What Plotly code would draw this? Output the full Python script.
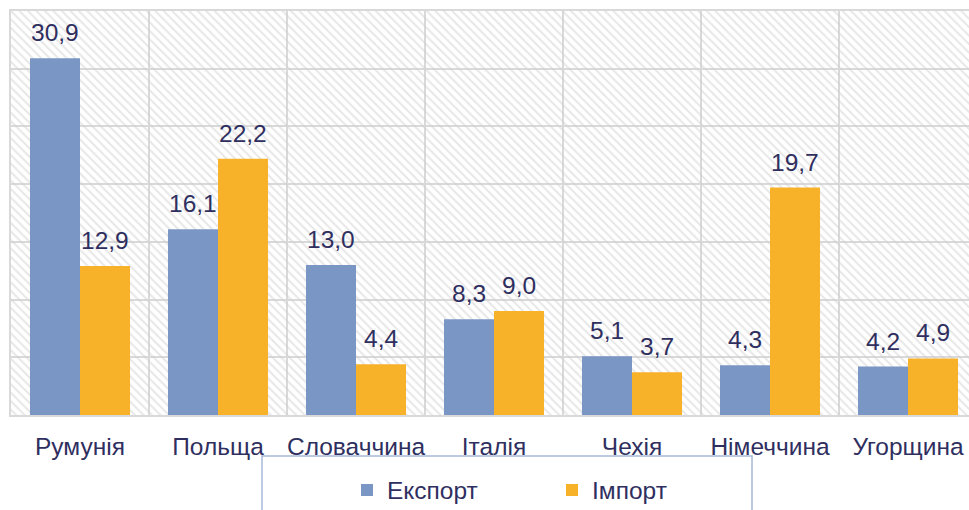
import plotly.graph_objects as go

categories = ["Румунія", "Польща", "Словаччина", "Італія", "Чехія", "Німеччина", "Угорщина"]
export_vals = [30.9, 16.1, 13.0, 8.3, 5.1, 4.3, 4.2]
import_vals = [12.9, 22.2, 4.4, 9.0, 3.7, 19.7, 4.9]
series_names = ["Експорт", "Імпорт"]
Y_MAX = 35
Y_STEP = 5

BLUE = "#7a96c4"
ORANGE = "#f8b22a"
TEXT = "#2f2f5f"
GRID = "#d9d9d9"
FONT = "Liberation Sans, Arial, sans-serif"
FS = 24.5

# the page body margin is removed (post_script), so figure px == page px
W, H = 969, 510
L, R, T, B = 11, 0, 11, 95
PLOT_W = W - L - R
PLOT_H = H - T - B
OFF = 0
CAT_PX = 138  # category slot width in the reference (last slot is cropped)
x_max = -0.5 + PLOT_W / CAT_PX

fig = go.Figure()

# hatched plot background (base axes)
fig.add_trace(go.Bar(
    x=[0.5], y=[Y_MAX], width=[1], xaxis="x", yaxis="y",
    marker=dict(color="rgba(0,0,0,0)", line=dict(width=0),
                pattern=dict(shape="\\", fgcolor="#cfcfcf", bgcolor="rgba(0,0,0,0)",
                             size=6, solidity=0.33, fillmode="overlay")),
    showlegend=False, hoverinfo="skip",
))

fig.add_trace(go.Bar(x=categories, y=export_vals, name=series_names[0],
                     marker=dict(color=BLUE, line=dict(width=0)),
                     xaxis="x2", yaxis="y2"))
fig.add_trace(go.Bar(x=categories, y=import_vals, name=series_names[1],
                     marker=dict(color=ORANGE, line=dict(width=0)),
                     xaxis="x2", yaxis="y2"))

BARGAP = 0.275
offset = (1 - BARGAP) / 4
annotations = []
for i, (e, m) in enumerate(zip(export_vals, import_vals)):
    for val, dx in ((e, -offset), (m, offset)):
        annotations.append(dict(
            x=i + dx, y=val, xref="x2", yref="y2", text=f"{val:.1f}".replace(".", ","),
            showarrow=False, yanchor="bottom", yshift=10,
            font=dict(size=FS, color=TEXT, family=FONT)))


def px_x(page_x):
    return (page_x - OFF - L) / PLOT_W


def px_y(page_y):
    return 1 - (page_y - OFF - T) / PLOT_H


fig.update_layout(
    width=W, height=H,
    margin=dict(l=L, r=R, t=T, b=B, autoexpand=False),
    paper_bgcolor="white", plot_bgcolor="white",
    barmode="group", bargap=BARGAP, bargroupgap=0,
    font=dict(family=FONT, size=FS, color=TEXT),
    xaxis=dict(range=[0, 1], side="top", showticklabels=False, showgrid=False, zeroline=False,
               ticks="", showline=True, linecolor=GRID, linewidth=2, fixedrange=True),
    yaxis=dict(range=[0, Y_MAX], dtick=Y_STEP, showgrid=True, gridcolor=GRID, gridwidth=2,
               showticklabels=False, zeroline=False, ticks="",
               showline=True, linecolor=GRID, linewidth=2, mirror=False),
    xaxis2=dict(overlaying="x", type="category", range=[-0.5, x_max], tickson="boundaries",
                showgrid=True, gridcolor=GRID, gridwidth=2, ticks="", tickangle=0,
                showline=True, linecolor=GRID, linewidth=2, automargin=False,
                tickfont=dict(size=FS, color=TEXT, family=FONT), ticklabelstandoff=9),
    yaxis2=dict(overlaying="y", range=[0, Y_MAX], showgrid=False, showticklabels=False,
                zeroline=False, ticks=""),
    legend=dict(orientation="h", x=px_x(347), xanchor="left", y=px_y(490), yanchor="middle",
                font=dict(size=FS, color=TEXT, family=FONT), entrywidth=160,
                entrywidthmode="pixels", bgcolor="rgba(0,0,0,0)", traceorder="normal"),
    annotations=annotations,
    shapes=[dict(type="rect", xref="paper", yref="paper", x0=px_x(262), x1=px_x(752),
                 y0=px_y(540), y1=px_y(456), line=dict(color="#a9b9d9", width=1.5),
                 fillcolor="rgba(0,0,0,0)", layer="above")],
)

fig.write_html("out.html", config={"displayModeBar": False},
               post_script="document.body.style.margin='0';document.body.style.overflow='hidden';")
